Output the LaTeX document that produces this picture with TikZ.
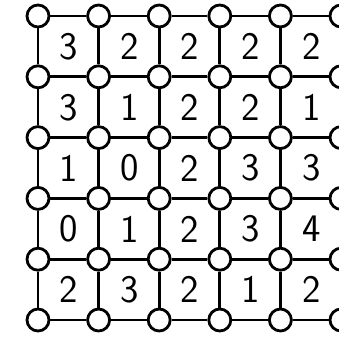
\documentclass[tikz,border=0pt]{standalone}
\usetikzlibrary{calc}
\begin{document}
\begin{tikzpicture}[x=1pt,y=1pt,
  vtx/.style={circle,draw=black,fill=white,line width=2.8pt,minimum size=22pt,inner sep=0pt},
  edge/.style={line width=2.8pt,draw=black},
  num/.style={font=\fontsize{39}{44}\sffamily,inner sep=0pt}]
\useasboundingbox (0,0) rectangle (339,337);
\foreach \i in {0,...,5}{
  \foreach \j in {0,...,5}{
    \node[vtx] (v\i\j) at ({38+60.6*\i},{337-16-60.8*\j}) {};
  }
}
\foreach \i in {0,...,5}{
  \foreach \j [count=\k from 1] in {0,...,4}{
    \draw[edge] (v\i\j) -- (v\i\k);
    \draw[edge] (v\j\i) -- (v\k\i);
  }
}
\foreach \row [count=\j from 0] in {{3,2,2,2,2},{3,1,2,2,1},{1,0,2,3,3},{0,1,2,3,4},{2,3,2,1,2}}{
  \foreach \d [count=\i from 0] in \row {
    \node[num] (c\i\j) at ({68.8+60.6*\i},{337-46.6-60.8*\j}) {\d};
  }
}
\end{tikzpicture}
\end{document}
